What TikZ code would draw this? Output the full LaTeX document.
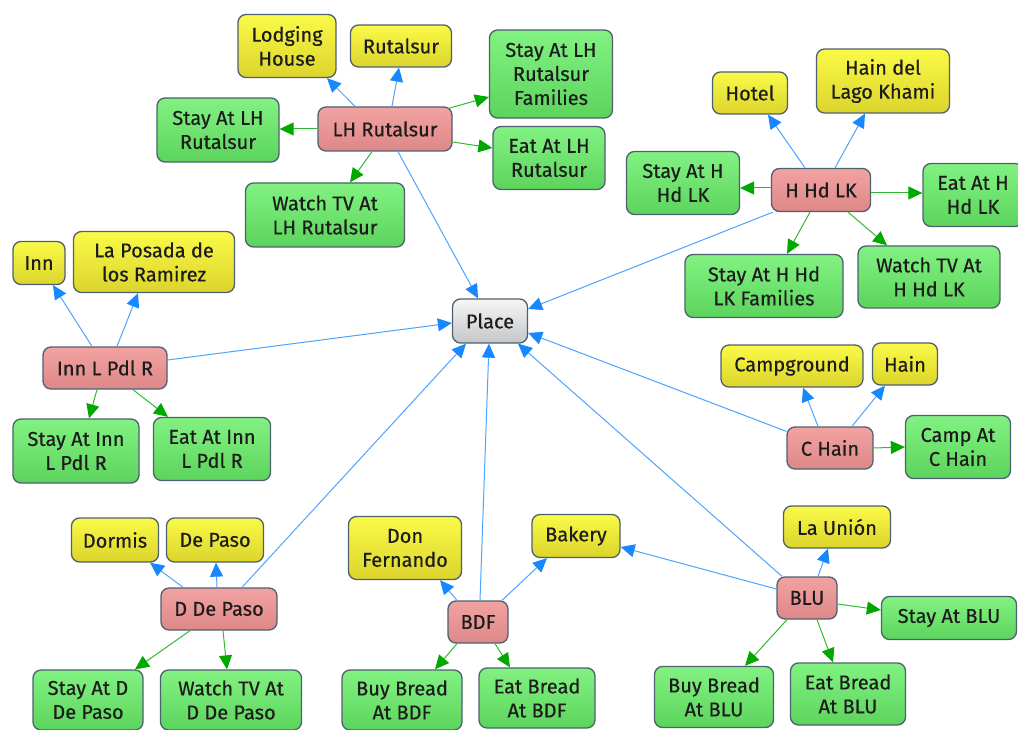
\documentclass[tikz,border=0pt]{standalone}
\usepackage{fontspec}
\setmainfont{Fira Sans}
\newfontfamily\boxfont{Fira Sans}[FakeBold=0.4]
\usetikzlibrary{arrows.meta,calc}
\definecolor{bordc}{HTML}{4E6070}
\definecolor{txtc}{HTML}{1C1C1C}
\definecolor{yeltop}{HTML}{FAFA48}
\definecolor{yelbot}{HTML}{DCD42C}
\definecolor{grntop}{HTML}{82F282}
\definecolor{grnbot}{HTML}{5CD45C}
\definecolor{pnktop}{HTML}{F2A2A2}
\definecolor{pnkbot}{HTML}{DE8888}
\definecolor{grytop}{HTML}{F6F6F6}
\definecolor{grybot}{HTML}{C4C6C8}
\definecolor{bluline}{HTML}{4DA3FF}
\definecolor{bluhead}{HTML}{1788FF}
\definecolor{grnline}{HTML}{33B833}
\definecolor{grnhead}{HTML}{00A800}
\tikzset{
  cbox/.style={draw=bordc, line width=1.3pt, rounded corners=8pt, inner sep=0pt,
    align=center, text=txtc, font=\boxfont\fontsize{20}{24}\selectfont},
  sz/.style 2 args={minimum width=#1pt, minimum height=#2pt},
  yel/.style={cbox, top color=yeltop, bottom color=yelbot},
  grn/.style={cbox, top color=grntop, bottom color=grnbot},
  pnk/.style={cbox, top color=pnktop, bottom color=pnkbot},
  gry/.style={cbox, top color=grytop, bottom color=grybot},
  blink/.style={draw=bluline, line width=1pt,
    -{Triangle[length=14pt,width=13pt,color=bluhead]}},
  glink/.style={draw=grnline, line width=1pt,
    -{Triangle[length=14pt,width=13pt,color=grnhead]}},
}
\begin{document}
\begin{tikzpicture}[x=1pt,y=-1pt]
\useasboundingbox (0,0) rectangle (1018,730);

% central concept
\node[gry, sz={75}{44}] (place) at (490,321) {Place};

% LH Rutalsur cluster
\node[yel, sz={98}{63}]  (lodge)   at (287,46)  {Lodging\\House};
\node[yel, sz={101}{42}] (rut)     at (401,46)  {Rutalsur};
\node[grn, sz={123}{88}] (stayfam) at (551,74)  {Stay At LH\\Rutalsur\\Families};
\node[grn, sz={122}{64}] (staylh)  at (218,130) {Stay At LH\\Rutalsur};
\node[pnk, sz={134}{44}] (lh)      at (385,129) {LH Rutalsur};
\node[grn, sz={112}{63}] (eatlh)   at (549,158) {Eat At LH\\Rutalsur};
\node[grn, sz={159}{64}] (tvlh)    at (325,215) {Watch TV At\\LH Rutalsur};

% H Hd LK cluster
\node[yel, sz={75}{42}]  (hotel)   at (750,93)  {Hotel};
\node[yel, sz={133}{64}] (haindel) at (883,81)  {Hain del\\Lago Khami};
\node[grn, sz={113}{63}] (stayh)   at (683,183) {Stay At H\\Hd LK};
\node[pnk, sz={99}{43}]  (hhd)     at (821,190) {H Hd LK};
\node[grn, sz={100}{63}] (eath)    at (973,195) {Eat At H\\Hd LK};
\node[grn, sz={158}{63}] (stayhf)  at (764,286) {Stay At H Hd\\LK Families};
\node[grn, sz={142}{62}] (tvh)     at (929,277) {Watch TV At\\H Hd LK};

% Inn L Pdl R cluster
\node[yel, sz={52}{43}]  (inn)     at (39,263)  {Inn};
\node[yel, sz={161}{61}] (posada)  at (154,262) {La Posada de\\los Ramirez};
\node[pnk, sz={124}{42}] (innl)    at (105,368) {Inn L Pdl R};
\node[grn, sz={126}{64}] (stayinn) at (76,451)  {Stay At Inn\\L Pdl R};
\node[grn, sz={117}{63}] (eatinn)  at (212,449) {Eat At Inn\\L Pdl R};

% C Hain cluster
\node[yel, sz={142}{42}] (camp)    at (792,366) {Campground};
\node[yel, sz={65}{42}]  (hain)    at (905,364) {Hain};
\node[pnk, sz={86}{42}]  (chain)   at (830,448) {C Hain};
\node[grn, sz={105}{63}] (campat)  at (958,447) {Camp At\\C Hain};

% D De Paso cluster
\node[yel, sz={87}{44}]  (dormis)  at (115,540) {Dormis};
\node[yel, sz={97}{44}]  (depaso)  at (215,540) {De Paso};
\node[pnk, sz={116}{42}] (ddp)     at (219,609) {D De Paso};
\node[grn, sz={110}{60}] (stayd)   at (88,700)  {Stay At D\\De Paso};
\node[grn, sz={141}{60}] (tvd)     at (231,700) {Watch TV At\\D De Paso};

% BDF cluster
\node[yel, sz={113}{63}] (donf)    at (405,548) {Don\\Fernando};
\node[yel, sz={88}{43}]  (bakery)  at (576,536) {Bakery};
\node[pnk, sz={60}{42}]  (bdf)     at (478,622) {BDF};
\node[grn, sz={120}{60}] (buybdf)  at (402,700) {Buy Bread\\At BDF};
\node[grn, sz={116}{60}] (eatbdf)  at (537,698) {Eat Bread\\At BDF};

% BLU cluster
\node[yel, sz={107}{42}] (launion) at (837,527) {La Unión};
\node[pnk, sz={60}{42}]  (blu)     at (807,598) {BLU};
\node[grn, sz={135}{43}] (staybl)  at (949,618) {Stay At BLU};
\node[grn, sz={119}{61}] (buyblu)  at (714,697) {Buy Bread\\At BLU};
\node[grn, sz={115}{62}] (eatblu)  at (848,694) {Eat Bread\\At BLU};

% links of LH Rutalsur
\draw[blink] ($(lh.north)+(-30,0)$) -- ($(lodge.south)+(40,0)$);
\draw[blink] ($(lh.north)+(7,0)$) -- ($(rut.south)+(-2,0)$);
\draw[glink] ($(lh.north east)+(-4,2)$) -- ($(stayfam.west)+(0,23)$);
\draw[glink] (lh.west) -- ($(staylh.east)+(0,-1)$);
\draw[glink] ($(lh.east)+(0,13)$) -- ($(eatlh.west)+(0,-10)$);
\draw[glink] ($(lh.south)+(-13,0)$) -- ($(tvlh.north)+(25,0)$);
\draw[blink] ($(lh.south)+(13,0)$) -- ($(place.north)+(-12,0)$);

% links of H Hd LK
\draw[blink] ($(hhd.north)+(-16,0)$) -- ($(hotel.south)+(18,0)$);
\draw[blink] ($(hhd.north)+(14,0)$) -- ($(haindel.south)+(-18,0)$);
\draw[glink] ($(hhd.west)+(0,-2)$) -- ($(stayh.east)+(0,5)$);
\draw[glink] ($(hhd.east)+(0,3)$) -- ($(eath.west)+(0,-2)$);
\draw[glink] ($(hhd.south)+(-11,0)$) -- ($(stayhf.north)+(23,0)$);
\draw[glink] ($(hhd.south)+(27,0)$) -- ($(tvh.north)+(-42,0)$);
\draw[blink] ($(hhd.south west)+(2,0)$) -- ($(place.east)+(0,-12)$);

% links of Inn L Pdl R
\draw[blink] ($(innl.north)+(-13,0)$) -- ($(inn.south)+(14,0)$);
\draw[blink] ($(innl.north)+(12,0)$) -- ($(posada.south)+(-16,0)$);
\draw[glink] ($(innl.south)+(-8,0)$) -- ($(stayinn.north)+(13,0)$);
\draw[glink] ($(innl.south)+(28,0)$) -- ($(eatinn.north)+(-44,0)$);
\draw[blink] ($(innl.east)+(0,-8)$) -- ($(place.west)+(0,2)$);

% links of C Hain
\draw[blink] ($(chain.north)+(-12,0)$) -- ($(camp.south)+(11,0)$);
\draw[blink] ($(chain.north)+(22,0)$) -- ($(hain.south)+(-20,0)$);
\draw[glink] (chain.east) -- (campat.west);
\draw[blink] ($(chain.north west)+(0,5)$) -- ($(place.east)+(0,12)$);

% links of D De Paso
\draw[blink] ($(ddp.north)+(-36,0)$) -- ($(dormis.south)+(35,0)$);
\draw[blink] ($(ddp.north)+(-2,0)$) -- ($(depaso.south)+(1,0)$);
\draw[glink] ($(ddp.south)+(-29,0)$) -- ($(stayd.north)+(47,0)$);
\draw[glink] ($(ddp.south)+(4,0)$) -- ($(tvd.north)+(-4,0)$);
\draw[blink] ($(ddp.north)+(23,0)$) -- ($(place.south)+(-24,0)$);

% links of BDF
\draw[blink] ($(bdf.north)+(-21,0)$) -- ($(donf.south)+(35,0)$);
\draw[blink] ($(bdf.north)+(24,0)$) -- ($(bakery.south)+(-29,0)$);
\draw[blink] ($(bdf.north)+(2,0)$) -- ($(place.south)+(-1,0)$);
\draw[glink] ($(bdf.south)+(-21,0)$) -- ($(buybdf.north)+(33,0)$);
\draw[glink] ($(bdf.south)+(17,0)$) -- ($(eatbdf.north)+(-27,0)$);

% links of BLU
\draw[blink] ($(blu.north)+(11,0)$) -- ($(launion.south)+(-9,0)$);
\draw[blink] ($(blu.west)+(0,-9)$) -- ($(bakery.east)+(0,11)$);
\draw[blink] ($(blu.north)+(-25,0)$) -- ($(place.south)+(28,0)$);
\draw[glink] ($(blu.east)+(0,6)$) -- ($(staybl.west)+(0,-8)$);
\draw[glink] ($(blu.south)+(-20,0)$) -- ($(buyblu.north)+(31,0)$);
\draw[glink] ($(blu.south)+(10,0)$) -- ($(eatblu.north)+(-15,0)$);
\end{tikzpicture}
\end{document}
